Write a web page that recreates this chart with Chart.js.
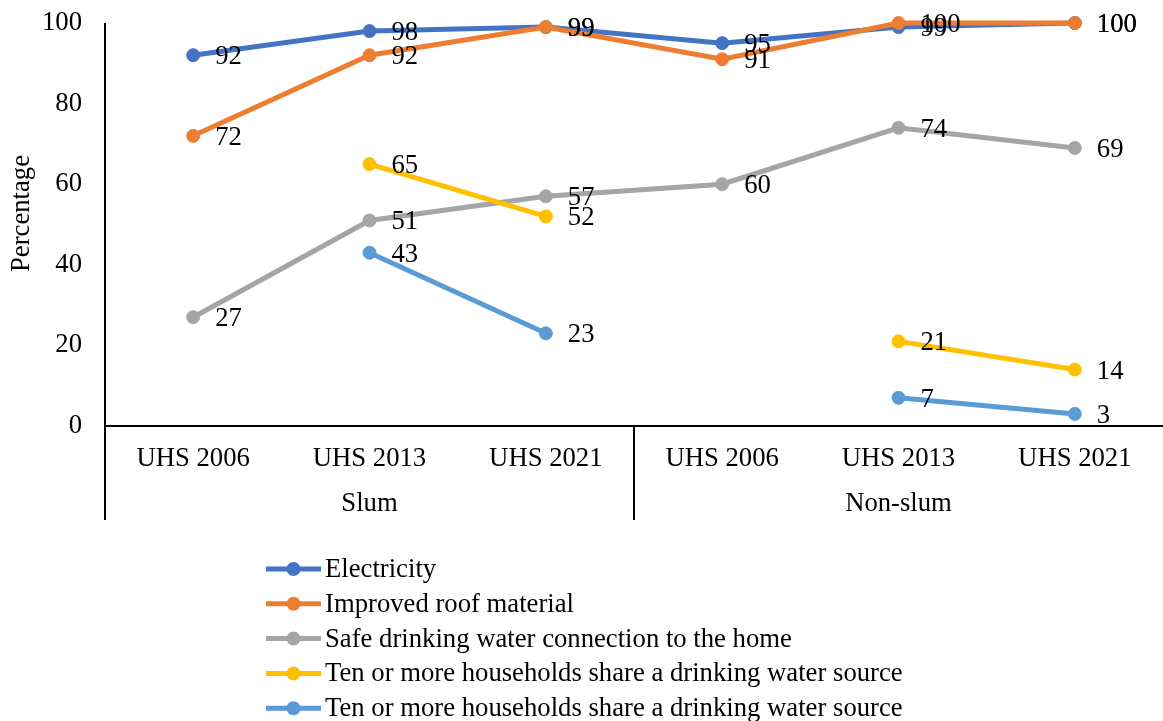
<!DOCTYPE html>
<html>
<head>
<meta charset="utf-8">
<script src="https://cdn.jsdelivr.net/npm/chart.js@4"></script>
<style>
  html, body { margin: 0; padding: 0; background: #fff; overflow: hidden; }
  #wrap { width: 1163px; height: 721px; position: relative; }
</style>
</head>
<body>
<div id="wrap"><canvas id="c"></canvas></div>
<script>
// Survey rounds (inner axis level) and settlement groups (outer axis level)
const rounds = ['UHS 2006', 'UHS 2013', 'UHS 2021', 'UHS 2006', 'UHS 2013', 'UHS 2021'];
const groups = ['Slum', 'Non-slum'];
const groupSize = 3;
const yTitle = 'Percentage';

const seriesNames = [
  'Electricity',
  'Improved roof material',
  'Safe drinking water connection to the home',
  'Ten or more households share a drinking water source',
  'Ten or more households share a drinking water source'
];
const electricity = [92, 98, 99, 95, 99, 100];
const roofMaterial = [72, 92, 99, 91, 100, 100];
const safeWater = [27, 51, 57, 60, 74, 69];
const sharedSourceA = [null, 65, 52, null, 21, 14];
const sharedSourceB = [null, 43, 23, null, 7, 3];
const yTicks = [0, 20, 40, 60, 80, 100];

const colors = ['#4472C4', '#ED7D31', '#A5A5A5', '#FFC000', '#5B9BD5'];
const FONT = "'Liberation Serif', 'Times New Roman', serif";
const FS = 26.7;

const values = [electricity, roofMaterial, safeWater, sharedSourceA, sharedSourceB];
const datasets = values.map((v, i) => ({
  label: seriesNames[i],
  data: v,
  borderColor: colors[i],
  backgroundColor: colors[i],
  pointBackgroundColor: colors[i],
  pointBorderColor: colors[i],
  borderWidth: 5,
  pointRadius: 6.5,
  pointBorderWidth: 1,
  spanGaps: false,
  tension: 0,
  clip: false,
  order: values.length - i
}));

// Value labels to the right of each point
const valueLabels = {
  id: 'valueLabels',
  afterDatasetsDraw(chart) {
    const ctx = chart.ctx;
    ctx.save();
    ctx.font = FS + 'px ' + FONT;
    ctx.fillStyle = '#000';
    ctx.textAlign = 'left';
    ctx.textBaseline = 'middle';
    chart.data.datasets.forEach((ds, i) => {
      const meta = chart.getDatasetMeta(i);
      meta.data.forEach((pt, j) => {
        const v = ds.data[j];
        if (v === null || v === undefined) return;
        ctx.fillText(String(v), pt.x + 22, pt.y + 2);
      });
    });
    ctx.restore();
  }
};

// Two-level category axis with group separators, plus the value axis title
const groupedAxis = {
  id: 'groupedAxis',
  afterDraw(chart) {
    const ctx = chart.ctx;
    const xs = chart.scales.x;
    const area = chart.chartArea;
    const row1 = area.bottom + 33;
    const row2 = area.bottom + 78;
    const lineEnd = area.bottom + 94;
    const step = xs.getPixelForValue(1) - xs.getPixelForValue(0);
    ctx.save();
    ctx.strokeStyle = '#000';
    ctx.lineWidth = 2;
    ctx.beginPath();
    ctx.moveTo(area.left, area.bottom);
    ctx.lineTo(area.right, area.bottom);
    ctx.moveTo(area.left, area.top);
    ctx.lineTo(area.left, lineEnd);
    for (let g = 1; g < groups.length; g++) {
      const bx = xs.getPixelForValue(g * groupSize - 1) + step / 2;
      ctx.moveTo(bx, area.bottom);
      ctx.lineTo(bx, lineEnd);
    }
    ctx.stroke();

    ctx.font = FS + 'px ' + FONT;
    ctx.fillStyle = '#000';
    ctx.textAlign = 'center';
    ctx.textBaseline = 'middle';
    rounds.forEach((r, i) => ctx.fillText(r, xs.getPixelForValue(i), row1));
    groups.forEach((g, k) => {
      const a = xs.getPixelForValue(k * groupSize);
      const b = xs.getPixelForValue(k * groupSize + groupSize - 1);
      ctx.fillText(g, (a + b) / 2, row2);
    });

    // rotated title of the value axis
    ctx.translate(22, (area.top + area.bottom) / 2 - 11);
    ctx.rotate(-Math.PI / 2);
    ctx.fillText(yTitle, 0, 0);
    ctx.restore();
  }
};

// Vertical legend below the plot
const stackedLegend = {
  id: 'stackedLegend',
  afterDraw(chart) {
    const ctx = chart.ctx;
    const x0 = 266, x1 = 321, tx = 325, y0 = 569, dy = 34.8;
    ctx.save();
    ctx.font = FS + 'px ' + FONT;
    ctx.textAlign = 'left';
    ctx.textBaseline = 'middle';
    chart.data.datasets.forEach((ds, i) => {
      const y = y0 + i * dy;
      ctx.strokeStyle = ds.borderColor;
      ctx.lineWidth = 5;
      ctx.beginPath();
      ctx.moveTo(x0, y);
      ctx.lineTo(x1, y);
      ctx.stroke();
      ctx.fillStyle = ds.borderColor;
      ctx.beginPath();
      ctx.arc((x0 + x1) / 2, y, 7, 0, Math.PI * 2);
      ctx.fill();
      ctx.fillStyle = '#000';
      ctx.fillText(ds.label, tx, y + 1);
    });
    ctx.restore();
  }
};

new Chart(document.getElementById('c'), {
  type: 'line',
  data: { labels: rounds.map((r, i) => i), datasets },
  options: {
    responsive: true,
    maintainAspectRatio: false,
    animation: false,
    layout: { autoPadding: false, padding: { left: 0, right: 0, top: 23, bottom: 295 } },
    plugins: { legend: { display: false }, tooltip: { enabled: false } },
    scales: {
      x: {
        type: 'category',
        display: false,
        offset: true
      },
      y: {
        min: 0,
        max: 100,
        afterBuildTicks(scale) { scale.ticks = yTicks.map(v => ({ value: v })); },
        afterFit(scale) {
          scale.width = 105;
          scale.paddingTop = 0;
          scale.paddingBottom = 0;
        },
        grid: { display: false, drawTicks: false },
        border: { display: false },
        ticks: {
          padding: 23,
          color: '#000',
          font: { family: FONT, size: FS }
        }
      }
    }
  },
  plugins: [valueLabels, groupedAxis, stackedLegend]
});
</script>
</body>
</html>
